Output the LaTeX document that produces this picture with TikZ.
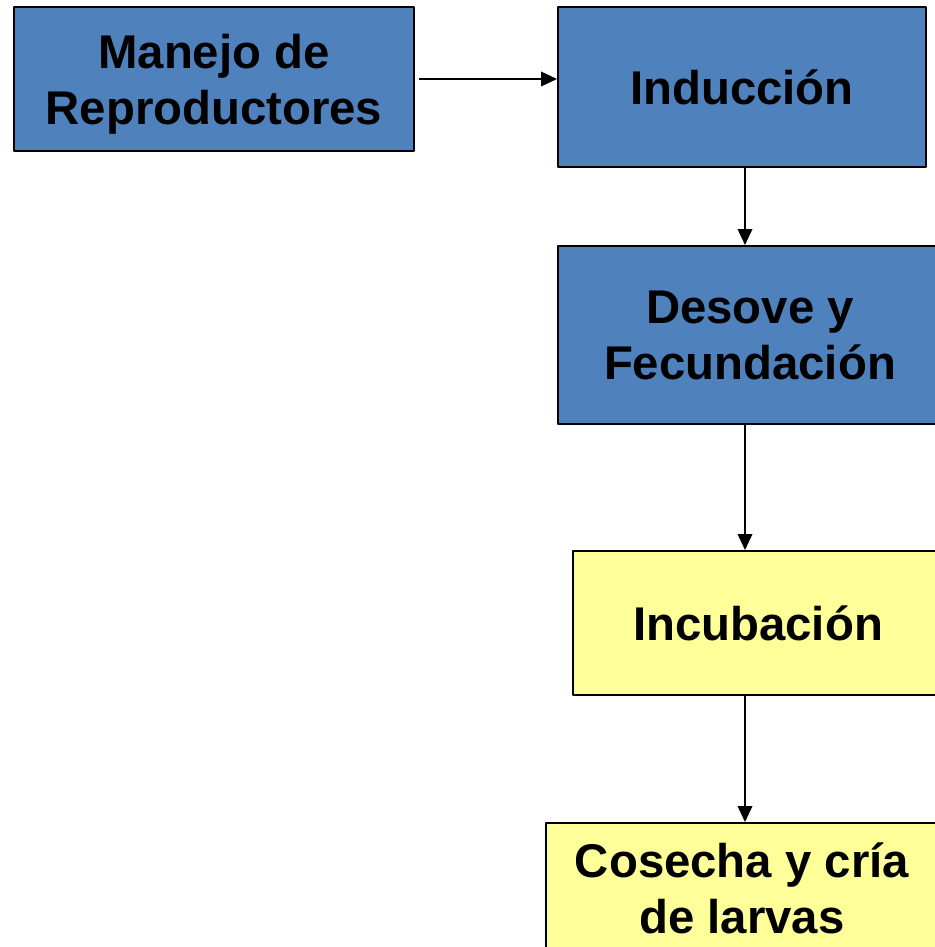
\documentclass[tikz,border=0pt]{standalone}
\usepackage{fontspec}
\setmainfont{Liberation Sans}
\usetikzlibrary{arrows.meta}
\definecolor{azul}{HTML}{4F81BD}
\definecolor{amarillo}{HTML}{FFFF99}
\begin{document}
\begin{tikzpicture}[x=0.75pt, y=-0.75pt, font=\fontsize{35.5}{42}\selectfont\bfseries, line join=round,
		caja/.style={draw=black, line width=1.5pt, align=center, inner sep=0pt},
		texto/.style={align=center, inner sep=0pt},
		flecha/.style={line width=1.2pt, -{Triangle[length=12pt, width=11pt]}}]
			\useasboundingbox (0,0) rectangle (935,947);
			\node[caja, fill=azul, minimum width=300pt, minimum height=108pt] (manejo) at (214,79) {};
			\node[texto] (manejotxt) at (214,84) {Manejo de\\Reproductores};
			\node[caja, fill=azul, minimum width=276pt, minimum height=120pt] (induccion) at (742,87) {Inducción};
			\node[caja, fill=azul, minimum width=288pt, minimum height=133.5pt] (desove) at (750,335) {Desove y\\Fecundación};
			\node[caja, fill=amarillo, minimum width=277.5pt, minimum height=108pt] (incubacion) at (758,623) {Incubación};
			\node[caja, fill=amarillo, minimum width=294pt, minimum height=112.5pt] (cosecha) at (742,898) {};
			\node[texto] (cosechatxt) at (742,888) {Cosecha y cría\\de larvas};
			\coordinate (eje) at (745,0);
			\draw[flecha, shorten <=3pt] (manejo.east) -- (manejo.east -| induccion.west);
			\foreach \a/\b in {induccion/desove, desove/incubacion, incubacion/cosecha}
				\draw[flecha] (\a.south -| eje) -- (\b.north -| eje);
		\end{tikzpicture}
\end{document}
